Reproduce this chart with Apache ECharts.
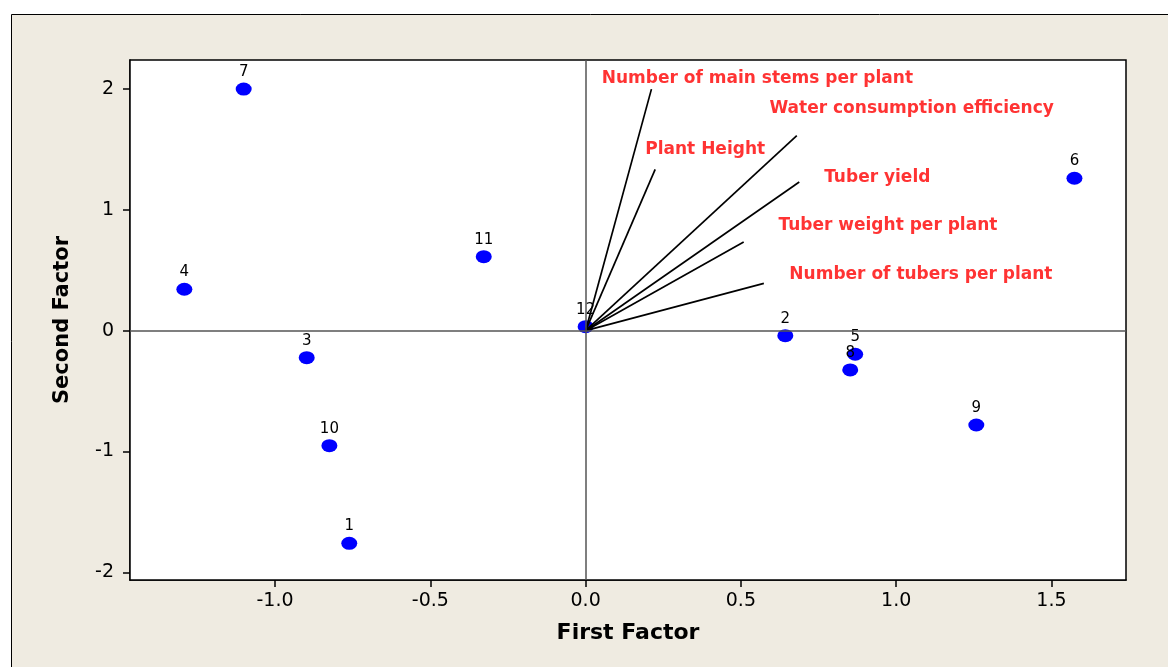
<!DOCTYPE html>
<html>
<head>
<meta charset="utf-8">
<script src="https://cdn.jsdelivr.net/npm/echarts@6/dist/echarts.min.js"></script>
<style>
html,body{margin:0;padding:0;background:#fff;}
#chart{width:1168px;height:667px;}
</style>
</head>
<body>
<div id="chart"></div>
<script>
// Observation scores
const pointLabels = ['1','2','3','4','5','6','7','8','9','10','11','12'];
const pointX = [-0.761, 0.643, -0.898, -1.292, 0.868, 1.574, -1.101, 0.852, 1.258, -0.825, -0.328, 0.000];
const pointY = [-1.760, -0.041, -0.223, 0.343, -0.195, 1.262, 2.000, -0.325, -0.781, -0.952, 0.613, 0.033];

// Variable loadings (vector tips)
const varNames = ['Number of main stems per plant','Plant Height','Water consumption efficiency','Tuber yield','Tuber weight per plant','Number of tubers per plant'];
const varX = [0.212, 0.224, 0.680, 0.688, 0.509, 0.574];
const varY = [2.000, 1.336, 1.614, 1.231, 0.734, 0.392];
// Variable label anchors (left edge, vertical centre)
const varLabelX = [0.052, 0.192, 0.592, 0.768, 0.621, 0.656];
const varLabelY = [2.089, 1.502, 1.841, 1.267, 0.867, 0.467];

// Axes
const xTicks = [-1.0, -0.5, 0.0, 0.5, 1.0, 1.5];
const yTicks = [-2, -1, 0, 1, 2];
const xRange = [-1.467, 1.740];
const yRange = [-2.064, 2.241];

const FONT = 'DejaVu Sans';
const chart = echarts.init(document.getElementById('chart'), null, {renderer:'canvas'});

const option = {
  backgroundColor: '#ffffff',
  animation: false,
  graphic: [{
    type: 'rect', z: -100, silent: true,
    shape: {x: 11.5, y: 14.5, width: 1200, height: 700},
    style: {fill: '#efebe1', stroke: '#000', lineWidth: 1}
  }],
  grid: {
    left: 130, top: 60, right: 42, bottom: 87,
    show: true, backgroundColor: '#ffffff', borderColor: '#000', borderWidth: 1.5, z: 1
  },
  xAxis: {
    type: 'value', min: xRange[0], max: xRange[1],
    name: 'First Factor', nameLocation: 'middle', nameGap: 42,
    nameTextStyle: {fontFamily: FONT, fontWeight: 'bold', fontSize: 22, color: '#000'},
    axisLine: {show: true, onZero: false, lineStyle: {color: '#000', width: 1.5}},
    axisTick: {show: true, inside: false, length: 7, lineStyle: {color: '#000', width: 1.5}, customValues: xTicks},
    axisLabel: {fontFamily: FONT, fontSize: 19, color: '#000', margin: 12, customValues: xTicks,
      formatter: v => v.toFixed(1)},
    splitLine: {show: false}
  },
  yAxis: {
    type: 'value', min: yRange[0], max: yRange[1],
    name: 'Second Factor', nameLocation: 'middle', nameGap: 57, nameRotate: 90,
    nameTextStyle: {fontFamily: FONT, fontWeight: 'bold', fontSize: 21, color: '#000'},
    axisLine: {show: true, onZero: false, lineStyle: {color: '#000', width: 1.5}},
    axisTick: {show: true, inside: false, length: 7, lineStyle: {color: '#000', width: 1.5}, customValues: yTicks},
    axisLabel: {fontFamily: FONT, fontSize: 19, color: '#000', margin: 16, customValues: yTicks,
      formatter: v => String(v)},
    splitLine: {show: false}
  },
  series: [
    {
      type: 'scatter', z: 2,
      data: [],
      markLine: {
        silent: true, symbol: 'none', animation: false,
        lineStyle: {color: '#555', width: 1.5, type: 'solid'},
        label: {show: false},
        data: [{xAxis: 0}, {yAxis: 0}]
      }
    },
    {
      type: 'scatter', z: 3,
      symbol: 'circle', symbolSize: [16, 13],
      itemStyle: {color: '#0000ff', opacity: 1},
      label: {show: true, position: 'top', distance: 3, formatter: p => p.data.name,
        fontFamily: FONT, fontSize: 15, color: '#000'},
      data: pointX.map((x, i) => ({name: pointLabels[i], value: [x, pointY[i]]}))
    },
    {
      type: 'lines', coordinateSystem: 'cartesian2d', z: 4,
      lineStyle: {color: '#000', width: 1.7, opacity: 1},
      symbol: 'none',
      data: varX.map((x, i) => ({coords: [[0, 0], [x, varY[i]]]}))
    },
    {
      type: 'scatter', z: 5, symbolSize: 0,
      label: {show: true, position: 'right', distance: 0, formatter: p => p.data.name,
        fontFamily: FONT, fontWeight: 'bold', fontSize: 17, color: '#ff0000'},
      data: varLabelX.map((x, i) => ({name: varNames[i], value: [x, varLabelY[i]]}))
    }
  ]
};
chart.setOption(option);
</script>
</body>
</html>
